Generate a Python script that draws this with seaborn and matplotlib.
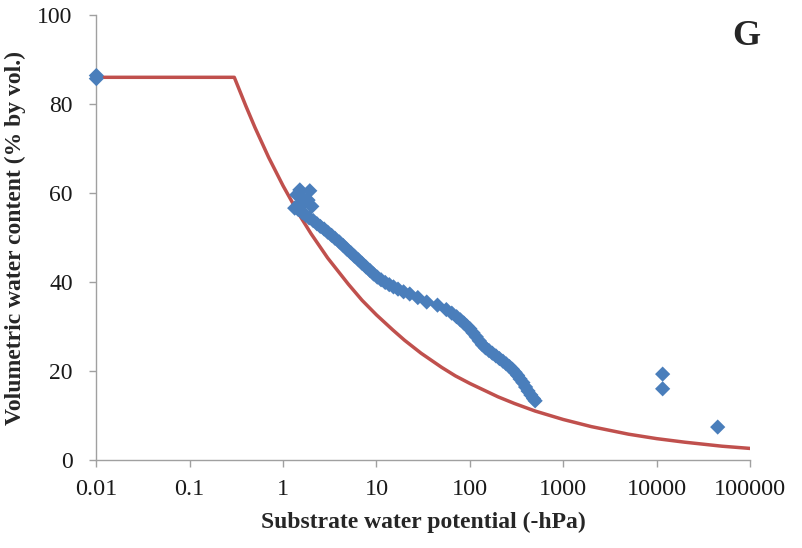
import numpy as np
import pandas as pd
import matplotlib
matplotlib.use("Agg")
import matplotlib.pyplot as plt
import seaborn as sns

# Datos medidos (potencial en -hPa, contenido en % vol.)
obs_potential = [
    0.01, 0.01,
    1.51, 1.93, 1.40, 1.71, 2.03, 1.33, 1.51, 1.60, 1.85,
    1.45, 1.60, 1.75, 1.90, 2.10, 2.30, 2.50, 2.75, 3.00, 3.30,
    3.60, 4.00, 4.40, 4.80, 5.30, 5.80, 6.40, 7.00, 7.70, 8.50,
    9.30, 10.2, 11.2, 12.4, 13.7, 15.2, 17.0,
    19.5, 22.7, 27.7, 34.5, 45.0, 56.0, 64.0, 72.0, 79.0, 86.0,
    93.0, 100, 108, 117, 126, 136, 147, 160, 174, 190,
    207, 226, 245, 265, 285, 305, 325, 345, 370, 395,
    420, 450, 480, 500,
    11600, 11600, 45100,
]
obs_content = [
    86.4, 85.7,
    60.7, 60.5, 59.6, 58.0, 57.0, 56.6, 57.5, 59.0, 58.4,
    56.3, 55.6, 55.0, 54.4, 53.8, 53.1, 52.5, 51.9, 51.2, 50.5,
    49.8, 49.0, 48.2, 47.4, 46.6, 45.8, 45.0, 44.2, 43.4, 42.6,
    41.8, 41.1, 40.5, 39.9, 39.4, 38.9, 38.4,
    37.8, 37.3, 36.5, 35.5, 34.8, 33.8, 33.0, 32.2, 31.5, 30.8,
    30.1, 29.5, 28.6, 27.7, 26.8, 25.9, 25.2, 24.6, 24.0, 23.4,
    22.8, 22.2, 21.6, 21.0, 20.4, 19.7, 19.0, 18.2, 17.4, 16.4,
    15.5, 14.6, 13.8, 13.3,
    19.3, 16.0, 7.4,
]

# Curva ajustada
fit_potential = [0.01, 0.3, 0.4, 0.5, 0.7, 1, 1.5, 2, 3, 5, 7, 10, 15, 20, 30, 50,
                 70, 100, 200, 300, 500, 1000, 2000, 5000, 10000, 20000, 50000, 100000]
fit_content = [86.0, 86.0, 79.5, 74.7, 68.0, 61.6, 55.0, 50.8, 45.4, 39.5, 35.9, 32.6,
               29.2, 26.9, 24.0, 20.8, 18.9, 17.2, 14.2, 12.7, 11.0, 9.1, 7.5, 5.8,
               4.8, 4.0, 3.1, 2.6]

xtick_values = [0.01, 0.1, 1, 10, 100, 1000, 10000, 100000]
xtick_labels = ["0.01", "0.1", "1", "10", "100", "1000", "10000", "100000"]
ytick_values = [0, 20, 40, 60, 80, 100]

obs = pd.DataFrame({"potential": obs_potential, "content": obs_content})
fit = pd.DataFrame({"potential": fit_potential, "content": fit_content})

sns.set_style("white")
plt.rcParams['font.family'] = ['Liberation Serif', 'DejaVu Serif']

fig = plt.figure(figsize=(8.03, 5.48), dpi=100)
ax = fig.add_axes([0.120, 0.1606, 0.814, 0.812])
ax.set_xscale('log')

sns.lineplot(data=fit, x="potential", y="content", ax=ax, color="#C0504D",
             linewidth=2.5, sort=False, zorder=2)
sns.scatterplot(data=obs, x="potential", y="content", ax=ax, marker="D",
                color="#4A7EBB", s=60, edgecolor="none", linewidth=0, zorder=3,
                clip_on=False)

ax.set_xlim(0.01, 100000)
ax.set_ylim(0, 100)
ax.set_xticks(xtick_values)
ax.set_xticklabels(xtick_labels)
ax.minorticks_off()
ax.set_yticks(ytick_values)

for side in ["top", "right"]:
    ax.spines[side].set_visible(False)
for side in ["left", "bottom"]:
    ax.spines[side].set_color("#A0A0A0")
    ax.spines[side].set_linewidth(1.0)

ax.tick_params(axis='x', which='major', direction='out', length=5, width=1,
               color="#A0A0A0", labelsize=17.5, labelcolor="#1a1a1a", pad=9, bottom=True)
ax.tick_params(axis='y', which='major', direction='out', length=5, width=1,
               color="#A0A0A0", labelsize=17, labelcolor="#1a1a1a", pad=12, left=True)

ax.set_xlabel("Substrate water potential (-hPa)", fontsize=17, fontweight='bold', labelpad=8)
ax.set_ylabel("Volumetric water content (% by vol.)", fontsize=17, fontweight='bold', labelpad=8)

ax.text(0.995, 0.951, "G", transform=ax.transAxes, fontsize=26, fontweight='bold',
        ha='center', va='center')

fig.savefig("out.png", dpi=100)
